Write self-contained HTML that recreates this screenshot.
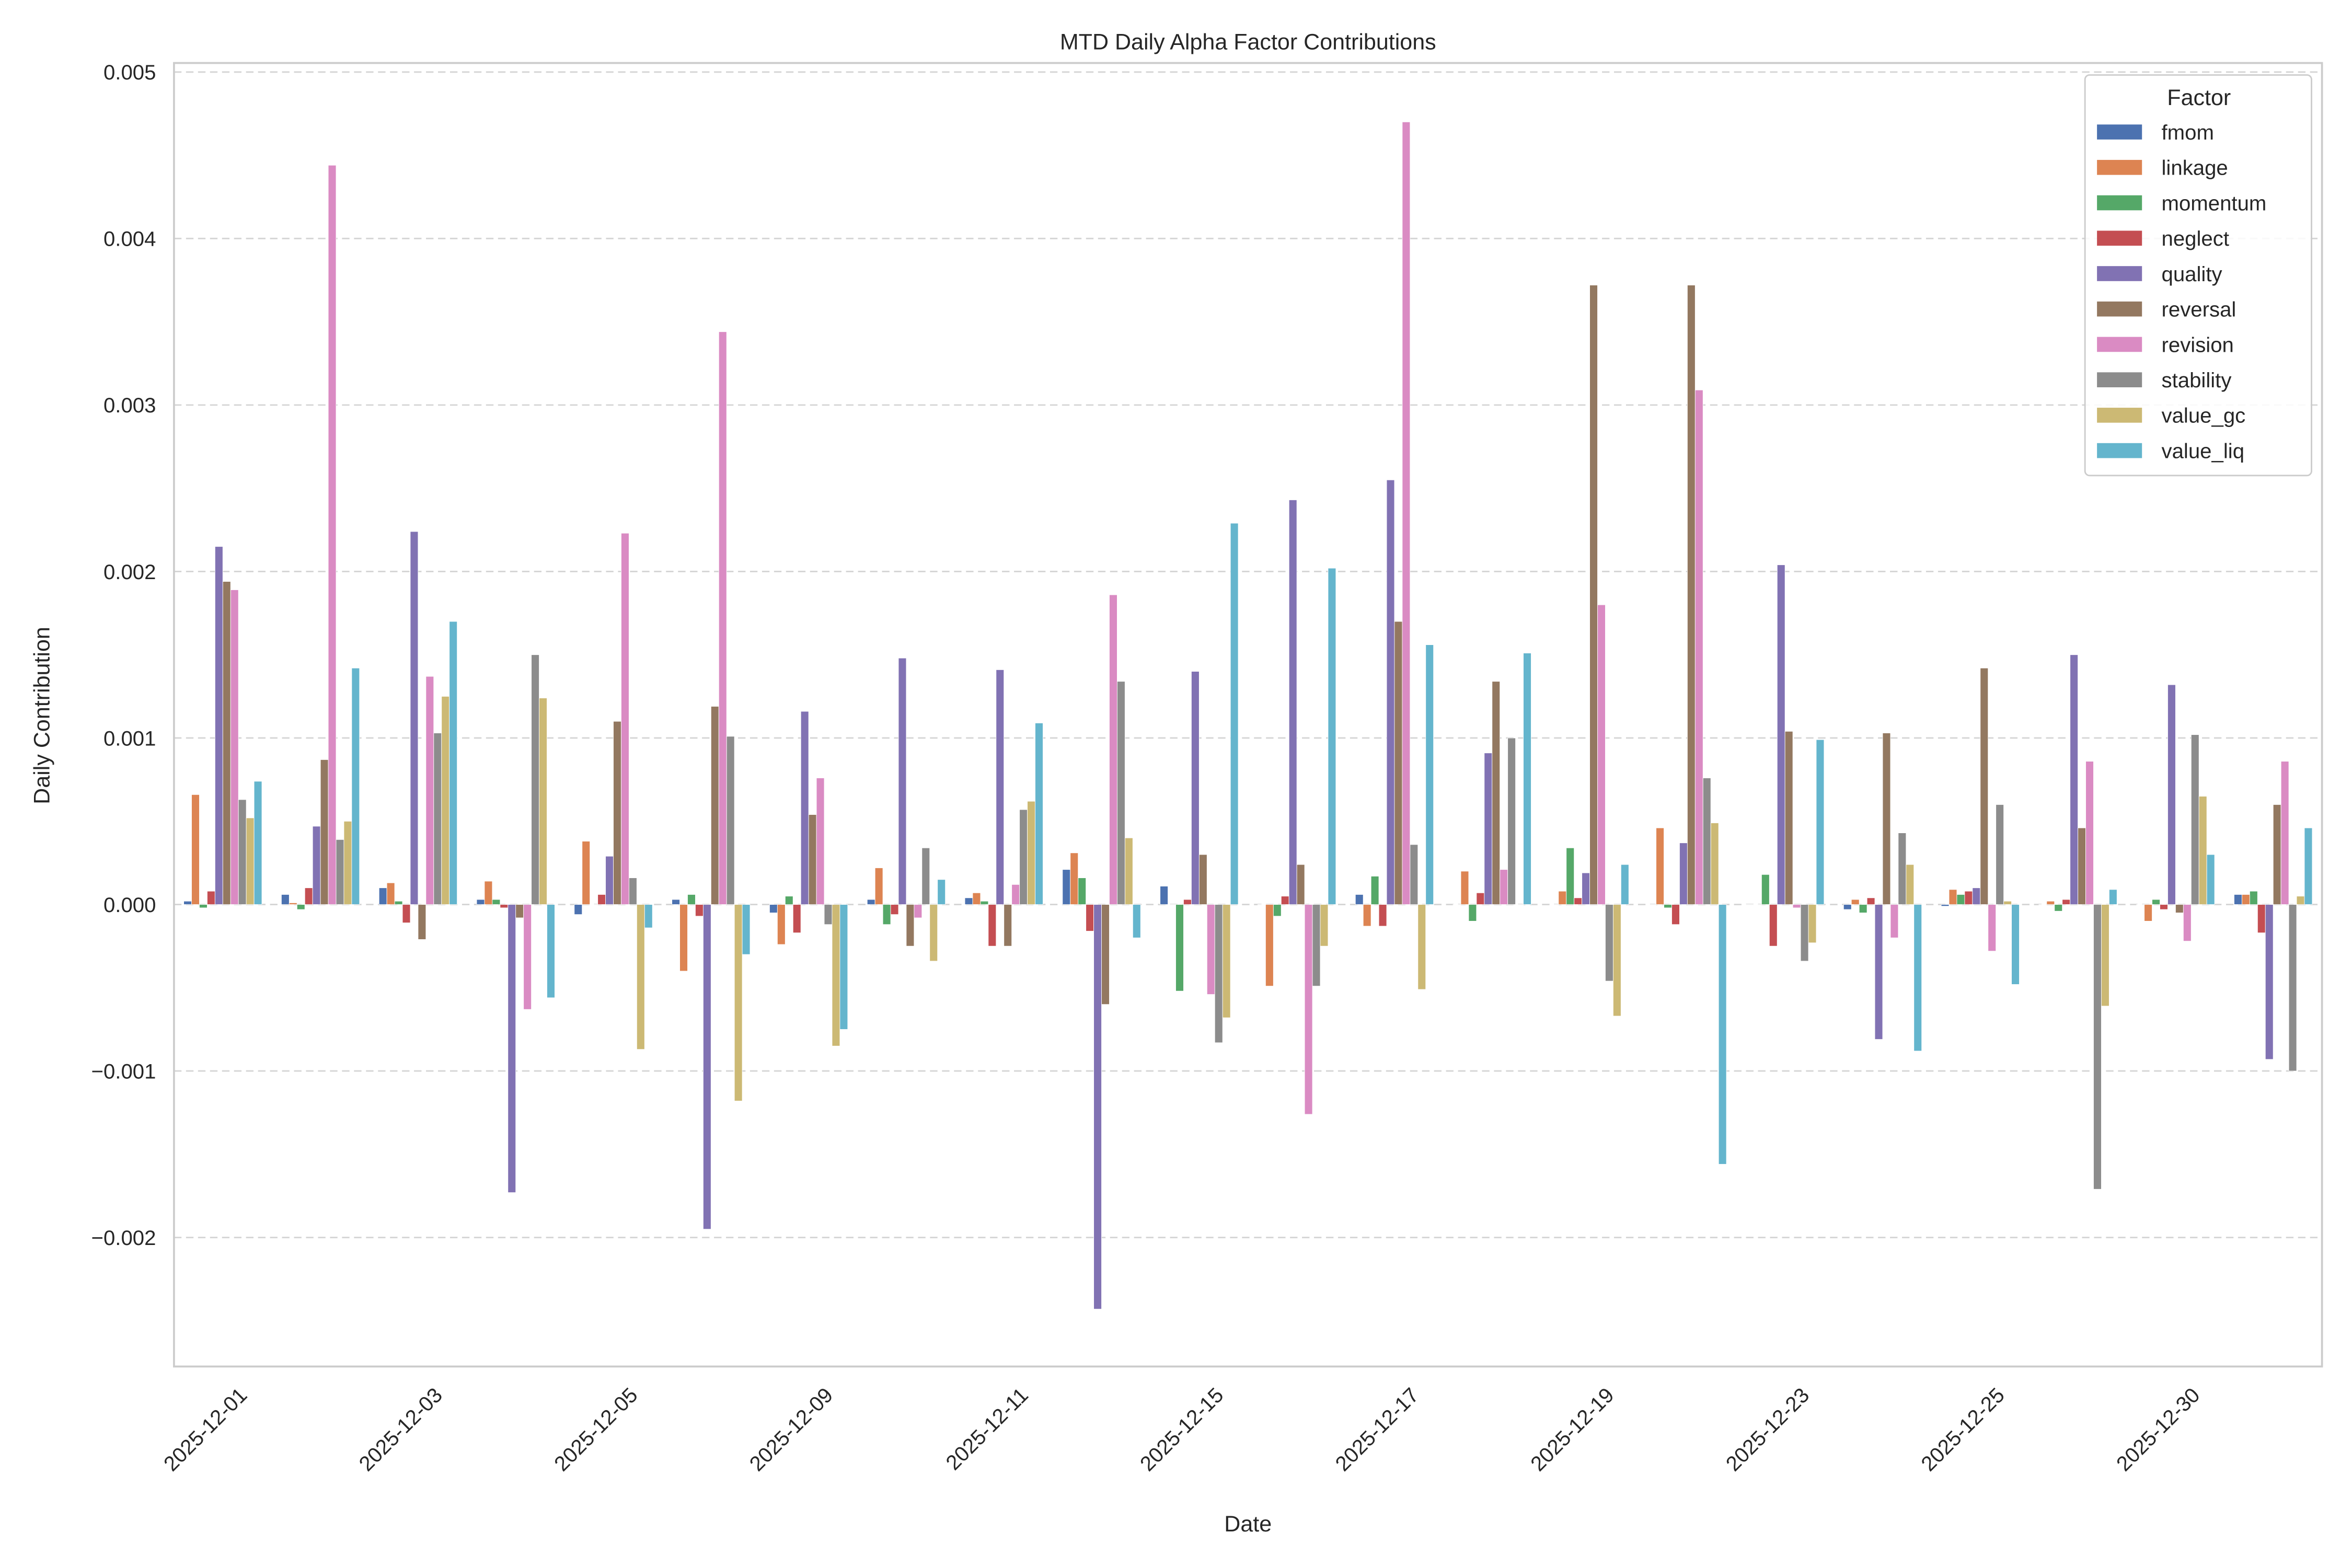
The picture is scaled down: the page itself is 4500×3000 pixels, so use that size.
<!DOCTYPE html>
<html><head><meta charset="utf-8"><style>
html,body{margin:0;padding:0;background:#fff;}
svg{display:block;font-family:"Liberation Sans","DejaVu Sans",sans-serif;}
</style></head><body>
<svg id="c" xmlns="http://www.w3.org/2000/svg" width="4500" height="3000" viewBox="0 0 1568 1045.33">
<rect width="1568" height="1046" fill="#fff"/>
</svg>
<script>
const svg=document.getElementById('c');
const NS='http://www.w3.org/2000/svg';
function el(t,a,txt){const e=document.createElementNS(NS,t);for(const k in a)e.setAttribute(k,a[k]);if(txt!==undefined)e.textContent=txt;svg.appendChild(e);return e;}
const L=116,R=1548,T=42,B=911,Y0=603,PPU=111000;
const y=v=>Y0-v*PPU;
for(let v=-0.002;v<=0.0051;v+=0.001){
  const yy=y(v);
  el('line',{x1:L,x2:R,y1:yy,y2:yy,stroke:'#d5d5d5','stroke-width':1,'stroke-dasharray':'5,3'});
  const s=Math.abs(v)<1e-9?'0.000':(v<0?'\u2212'+(-v).toFixed(3):v.toFixed(3));
  el('text',{x:104,y:yy+5,'text-anchor':'end','font-size':14,fill:'#262626'},s);
}
const colors=['#4c72b0','#dd8452','#55a868','#c44e52','#8172b3','#937860','#da8bc3','#8c8c8c','#ccb974','#64b5cd'];
const names=['fmom','linkage','momentum','neglect','quality','reversal','revision','stability','value_gc','value_liq'];
const D=[
[0.00002,0.00066,-0.00002,0.00008,0.00215,0.00194,0.00189,0.00063,0.00052,0.00074],
[0.00006,0.00001,-0.00003,0.0001,0.00047,0.00087,0.00444,0.00039,0.0005,0.00142],
[0.0001,0.00013,0.00002,-0.00011,0.00224,-0.00021,0.00137,0.00103,0.00125,0.0017],
[0.00003,0.00014,0.00003,-0.00002,-0.00173,-0.00008,-0.00063,0.0015,0.00124,-0.00056],
[-0.00006,0.00038,0.0,0.00006,0.00029,0.0011,0.00223,0.00016,-0.00087,-0.00014],
[0.00003,-0.0004,0.00006,-0.00007,-0.00195,0.00119,0.00344,0.00101,-0.00118,-0.0003],
[-0.00005,-0.00024,0.00005,-0.00017,0.00116,0.00054,0.00076,-0.00012,-0.00085,-0.00075],
[0.00003,0.00022,-0.00012,-0.00006,0.00148,-0.00025,-0.00008,0.00034,-0.00034,0.00015],
[0.00004,0.00007,0.00002,-0.00025,0.00141,-0.00025,0.00012,0.00057,0.00062,0.00109],
[0.00021,0.00031,0.00016,-0.00016,-0.00243,-0.0006,0.00186,0.00134,0.0004,-0.0002],
[0.00011,0.0,-0.00052,0.00003,0.0014,0.0003,-0.00054,-0.00083,-0.00068,0.00229],
[0.0,-0.00049,-0.00007,0.00005,0.00243,0.00024,-0.00126,-0.00049,-0.00025,0.00202],
[0.00006,-0.00013,0.00017,-0.00013,0.00255,0.0017,0.0047,0.00036,-0.00051,0.00156],
[0.0,0.0002,-0.0001,0.00007,0.00091,0.00134,0.00021,0.001,0.0,0.00151],
[0.0,0.00008,0.00034,0.00004,0.00019,0.00372,0.0018,-0.00046,-0.00067,0.00024],
[0.0,0.00046,-0.00002,-0.00012,0.00037,0.00372,0.00309,0.00076,0.00049,-0.00156],
[0.0,0.0,0.00018,-0.00025,0.00204,0.00104,-0.00002,-0.00034,-0.00023,0.00099],
[-0.00003,0.00003,-0.00005,0.00004,-0.00081,0.00103,-0.0002,0.00043,0.00024,-0.00088],
[-0.00001,0.00009,0.00006,0.00008,0.0001,0.00142,-0.00028,0.0006,0.00002,-0.00048],
[0.0,0.00002,-0.00004,0.00003,0.0015,0.00046,0.00086,-0.00171,-0.00061,0.00009],
[0.0,-0.0001,0.00003,-0.00003,0.00132,-0.00005,-0.00022,0.00102,0.00065,0.0003],
[0.00006,0.00006,0.00008,-0.00017,-0.00093,0.0006,0.00086,-0.001,0.00005,0.00046]];
const G=(R-L)/22, bw=G*0.8/10;
D.forEach((row,i)=>{row.forEach((v,k)=>{
  const x=L+G*i+G*0.1+bw*k;
  const y1=Math.min(y(v),Y0),h=Math.max(Math.abs(v*PPU),0.3);
  el('rect',{x:x,y:y1,width:bw,height:h,fill:colors[k],stroke:'#fff','stroke-width':0.3});
});});
el('rect',{x:L,y:T,width:R-L,height:B-T,fill:'none',stroke:'#cccccc','stroke-width':1.3});
const labs=['2025-12-01','2025-12-03','2025-12-05','2025-12-09','2025-12-11','2025-12-15','2025-12-17','2025-12-19','2025-12-23','2025-12-25','2025-12-30'];
labs.forEach((s,j)=>{
  const cx=L+G*(2*j)+G/2+17, cy=931;
  el('text',{x:cx,y:cy,'text-anchor':'end','font-size':14,fill:'#262626',transform:`rotate(-45 ${cx} ${cy})`},s);
});
el('text',{x:832,y:1021,'text-anchor':'middle','font-size':15,fill:'#262626'},'Date');
el('text',{x:0,y:0,'text-anchor':'middle','font-size':15,fill:'#262626',transform:'translate(33 477) rotate(-90)'},'Daily Contribution');
el('text',{x:832,y:33,'text-anchor':'middle','font-size':15,fill:'#262626'},'MTD Daily Alpha Factor Contributions');
el('rect',{x:1390,y:50,width:151,height:267,rx:3,fill:'#fff','fill-opacity':0.85,stroke:'#cccccc','stroke-width':1});
el('text',{x:1466,y:70,'text-anchor':'middle','font-size':15,fill:'#262626'},'Factor');
names.forEach((n,k)=>{
  const yy=88+k*23.6;
  el('rect',{x:1398,y:yy-5,width:30,height:10,fill:colors[k]});
  el('text',{x:1441,y:yy+5,'font-size':14,fill:'#262626'},n);
});
</script>
</body></html>
